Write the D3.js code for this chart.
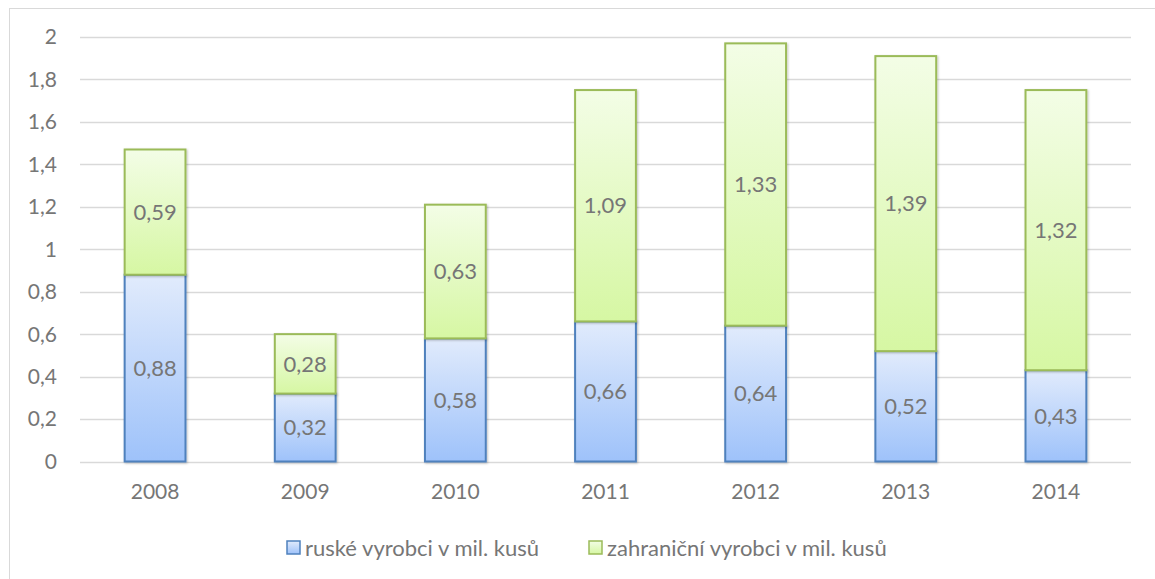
<!DOCTYPE html>
<html>
<head>
<meta charset="utf-8">
<script src="https://cdn.jsdelivr.net/npm/d3@7"></script>
<style>
  body { margin: 0; background: #fff; }
  text { font-family: Lato, "Open Sans", sans-serif; fill: #767676; }
</style>
</head>
<body>
<script>
var years = ["2008", "2009", "2010", "2011", "2012", "2013", "2014"];
var ruske = [0.88, 0.32, 0.58, 0.66, 0.64, 0.52, 0.43];
var zahranicni = [0.59, 0.28, 0.63, 1.09, 1.33, 1.39, 1.32];
var seriesNames = ["ruské vyrobci v mil. kusů", "zahraniční vyrobci v mil. kusů"];
var yTicks = [0, 0.2, 0.4, 0.6, 0.8, 1, 1.2, 1.4, 1.6, 1.8, 2];

var width = 1155, height = 579;
var margin = {left: 80, right: 24, top: 37, bottom: 117};

var svg = d3.select("body").append("svg")
    .attr("width", width)
    .attr("height", height);

var defs = svg.append("defs");
function grad(id, top, bottom) {
    var g = defs.append("linearGradient").attr("id", id)
        .attr("x1", 0).attr("y1", 0).attr("x2", 0).attr("y2", 1);
    g.append("stop").attr("offset", "0%").attr("stop-color", top);
    g.append("stop").attr("offset", "100%").attr("stop-color", bottom);
}
grad("gBlue", "#e1ebfc", "#9ec2fa");
grad("gGreen", "#f3fde6", "#d6f7a3");
var sh = defs.append("filter").attr("id", "shadow").attr("x", "-20%").attr("y", "-10%")
    .attr("width", "140%").attr("height", "120%");
sh.append("feDropShadow").attr("dx", 1).attr("dy", 1).attr("stdDeviation", 1.2)
    .attr("flood-color", "#000").attr("flood-opacity", 0.25);

// outer frame
svg.append("rect")
    .attr("x", 9.5).attr("y", 8.5)
    .attr("width", width + 20).attr("height", height + 20)
    .attr("fill", "none").attr("stroke", "#d9d9d9");

var x = d3.scaleBand()
    .domain(years)
    .range([margin.left, width - margin.right])
    .paddingInner(0.595)
    .paddingOuter(0.2975);

var y = d3.scaleLinear()
    .domain([0, 2])
    .range([height - margin.bottom - 0.5, margin.top]);

var fmt = function (v) { return String(v).replace(".", ","); };

// gridlines
svg.append("g").selectAll("line")
    .data(yTicks)
    .enter().append("line")
    .attr("x1", margin.left).attr("x2", width - margin.right)
    .attr("y1", function (d) { return Math.round(y(d)) + 0.5; })
    .attr("y2", function (d) { return Math.round(y(d)) + 0.5; })
    .attr("stroke", "#d9d9d9").attr("stroke-width", 1.3);

// y labels
svg.append("g").selectAll("text")
    .data(yTicks)
    .enter().append("text")
    .attr("x", 57)
    .attr("y", function (d) { return y(d); })
    .attr("dy", "0.35em")
    .attr("text-anchor", "end")
    .style("font-size", "21px")
    .text(fmt);

// x labels
svg.append("g").selectAll("text")
    .data(years)
    .enter().append("text")
    .attr("x", function (d) { return x(d) + x.bandwidth() / 2; })
    .attr("y", 499)
    .attr("text-anchor", "middle")
    .style("font-size", "21px")
    .text(function (d) { return d; });

var stacked = years.map(function (yr, i) {
    return [
        {year: yr, y0: 0, y1: ruske[i], v: ruske[i], s: 0},
        {year: yr, y0: ruske[i], y1: ruske[i] + zahranicni[i], v: zahranicni[i], s: 1}
    ];
});
var segs = [].concat.apply([], stacked);
var fills = ["url(#gBlue)", "url(#gGreen)"];
var strokes = ["#4f81bd", "#9bbb59"];

svg.append("g").selectAll("rect")
    .data(segs)
    .enter().append("rect")
    .attr("x", function (d) { return x(d.year); })
    .attr("width", x.bandwidth())
    .attr("y", function (d) { return y(d.y1); })
    .attr("height", function (d) { return y(d.y0) - y(d.y1); })
    .attr("fill", function (d) { return fills[d.s]; })
    .attr("stroke", function (d) { return strokes[d.s]; })
    .attr("stroke-width", 2)
    .attr("filter", "url(#shadow)");

svg.append("g").selectAll("text")
    .data(segs)
    .enter().append("text")
    .attr("x", function (d) { return x(d.year) + x.bandwidth() / 2; })
    .attr("y", function (d) { return (y(d.y0) + y(d.y1)) / 2; })
    .attr("dy", "0.35em")
    .attr("text-anchor", "middle")
    .style("font-size", "22px")
    .text(function (d) { return fmt(d.v); });

// legend
var legendX = [287, 589];
var lg = svg.append("g").selectAll("g")
    .data(seriesNames)
    .enter().append("g")
    .attr("transform", function (d, i) { return "translate(" + legendX[i] + ",541)"; });
lg.append("rect")
    .attr("width", 13).attr("height", 13)
    .attr("fill", function (d, i) { return fills[i]; })
    .attr("stroke", function (d, i) { return strokes[i]; })
    .attr("stroke-width", 1.5);
lg.append("text")
    .attr("x", 18).attr("y", 7)
    .attr("dy", "0.35em")
    .style("font-size", "22px")
    .text(function (d) { return d; });
</script>
</body>
</html>
